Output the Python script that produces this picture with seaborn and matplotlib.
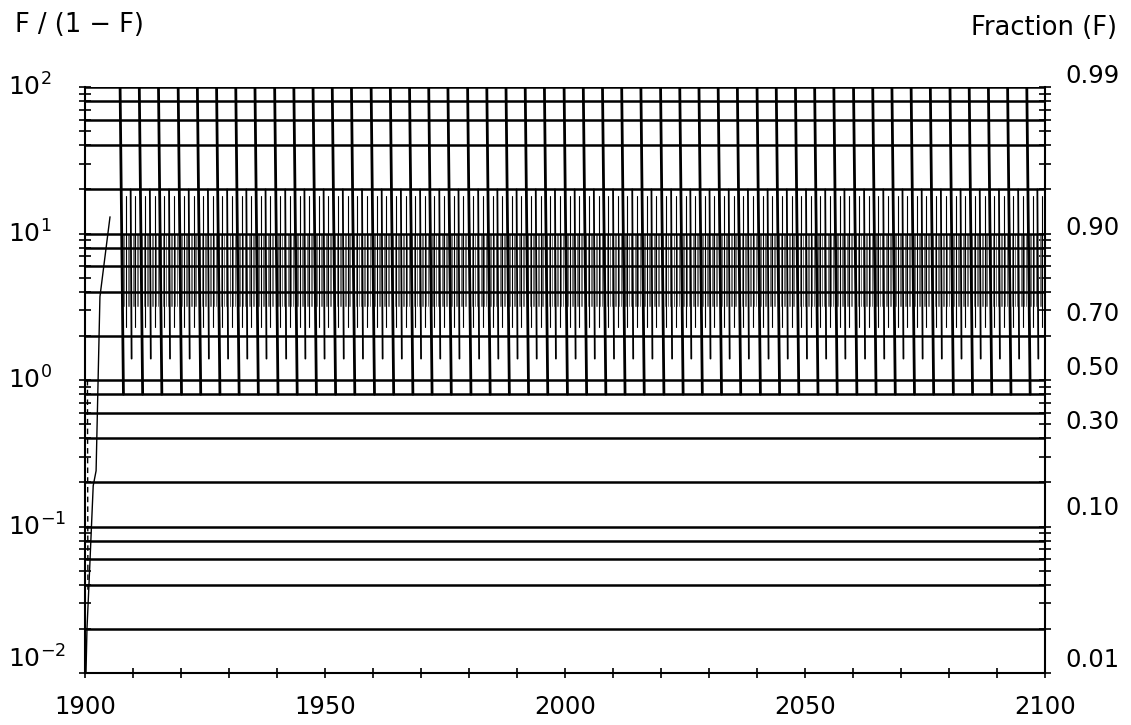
import pandas as pd
import matplotlib.pyplot as plt
import seaborn as sns

# Estilo
sns.set_style('ticks')
plt.rcParams['font.family'] = ['DejaVu Sans']
plt.rcParams['text.color'] = 'black'
plt.rcParams['xtick.color'] = 'black'
plt.rcParams['ytick.color'] = 'black'
plt.rcParams['axes.edgecolor'] = 'black'

# Dados
anos_dentes = [1907.3, 1911.3, 1915.3, 1919.4, 1923.4, 1927.4, 1931.4, 1935.4,
               1939.5, 1943.5, 1947.5, 1951.5, 1955.5, 1959.6, 1963.6, 1967.6,
               1971.6, 1975.6, 1979.7, 1983.7, 1987.7, 1991.7, 1995.7, 1999.8,
               2003.8, 2007.8, 2011.8, 2015.8, 2019.9, 2023.9, 2027.9, 2031.9,
               2035.9, 2040.0, 2044.0, 2048.0, 2052.0, 2056.0, 2060.1, 2064.1,
               2068.1, 2072.1, 2076.1, 2080.2, 2084.2, 2088.2, 2092.2, 2096.2]
niveis = [0.02, 0.04, 0.06, 0.08, 0.1, 0.2, 0.4, 0.6, 0.8, 1,
          2, 4, 6, 8, 10, 20, 40, 60, 80, 100]
fracoes = [0.99, 0.90, 0.70, 0.50, 0.30, 0.10, 0.01]
rotulos_fracao = ['0.99', '0.90', '0.70', '0.50', '0.30', '0.10', '0.01']
expoentes = [-2, -1, 0, 1, 2]
anos_ticks = [1900, 1950, 2000, 2050, 2100]
curva_anos = [1900.2, 1900.4, 1900.8, 1901.7, 1902.3, 1903.1, 1905.2]
curva_vals = [0.0102, 0.02, 0.039, 0.19, 0.24, 3.7, 13]
tracejado_anos = [1900.5, 1900.6]
tracejado_vals = [1.0, 0.035]

# alcance vertical dos dentes (valores de F/(1-F))
dente_topo, dente_base = 100, 0.8
meio_topo, meio_base = 20, 1.4
lado_topo, lado_base = 18, 2.3
hach_topo, hach_base = 10, 3.2


def segmentos(pares):
    linhas = []
    for i, (x0, y0, x1, y1) in enumerate(pares):
        linhas.append({'seg': i, 'ano': x0, 'valor': y0})
        linhas.append({'seg': i, 'ano': x1, 'valor': y1})
    return pd.DataFrame(linhas)


horiz = segmentos([(1900, v, 2100, v) for v in niveis])
grossos = segmentos([(c, dente_topo, c + 0.7, dente_base) for c in anos_dentes])
medios = segmentos([(c + 2.2, meio_topo, c + 2.4, meio_base) for c in anos_dentes])
lados = segmentos([(c + d, lado_topo, c + d, lado_base)
                   for c in anos_dentes for d in (1.2, 3.2)])
hach = segmentos([(c + d, hach_topo, c + d, hach_base)
                  for c in anos_dentes for d in (0.6, 0.9, 1.6, 1.9, 2.7, 2.9, 3.5, 3.8)])

fig = plt.figure(figsize=(11.31, 7.25), dpi=100)
ax = fig.add_axes([0.0752, 0.0717, 0.8488, 0.8083])

kw = dict(x='ano', y='valor', units='seg', estimator=None, legend=False, ax=ax)
sns.lineplot(data=hach, lw=0.6, color='0.35', **kw)
sns.lineplot(data=lados, lw=0.8, color='black', **kw)
sns.lineplot(data=medios, lw=1.3, color='black', **kw)
sns.lineplot(data=grossos, lw=2.0, color='black', **kw)
sns.lineplot(data=horiz, lw=1.8, color='black', **kw)
ax.plot(curva_anos, curva_vals, color='black', lw=1.0)
ax.plot(tracejado_anos, tracejado_vals, color='black', lw=1.0, ls=(0, (4, 3)))

ax.set_yscale('log')
ax.set_ylim(0.01, 100)
ax.set_xlim(1900, 2100)
ax.set_xlabel('')
ax.set_ylabel('')

# eixos
for lado in ['left', 'right', 'bottom']:
    ax.spines[lado].set_linewidth(1.5)
ax.spines['top'].set_visible(False)

ax.set_xticks(anos_ticks)
ax.set_xticks(range(1900, 2101, 10), minor=True)
ax.set_xticklabels([str(a) for a in anos_ticks], fontsize=17.5)
ax.tick_params(axis='x', which='both', direction='inout', length=7, width=1.2, pad=12)

ax.set_yticks([10.0 ** e for e in expoentes])
ax.set_yticklabels([])
ax.tick_params(axis='y', which='both', direction='inout', length=8, width=1.2,
               left=True, right=True)

# rótulos da esquerda (potências de dez)
for e in expoentes:
    ax.text(-0.08, 10.0 ** e, '$10^{%d}$' % e, transform=ax.get_yaxis_transform(),
            ha='left', va='bottom' if e == -2 else 'center', fontsize=18)

# rótulos da direita (fração F)
for f, r in zip(fracoes, rotulos_fracao):
    ax.annotate(r, xy=(1, f / (1 - f)), xycoords=('axes fraction', 'data'),
                xytext=(20, 12), textcoords='offset pixels',
                ha='left', va='center', fontsize=17.5)

fig.text(15 / 1131, 1 - 25 / 725, 'F / (1 − F)', ha='left', va='center', fontsize=18.5)
fig.text(1117 / 1131, 1 - 28 / 725, 'Fraction (F)', ha='right', va='center', fontsize=18.5)

plt.savefig('out.png', dpi=100)
